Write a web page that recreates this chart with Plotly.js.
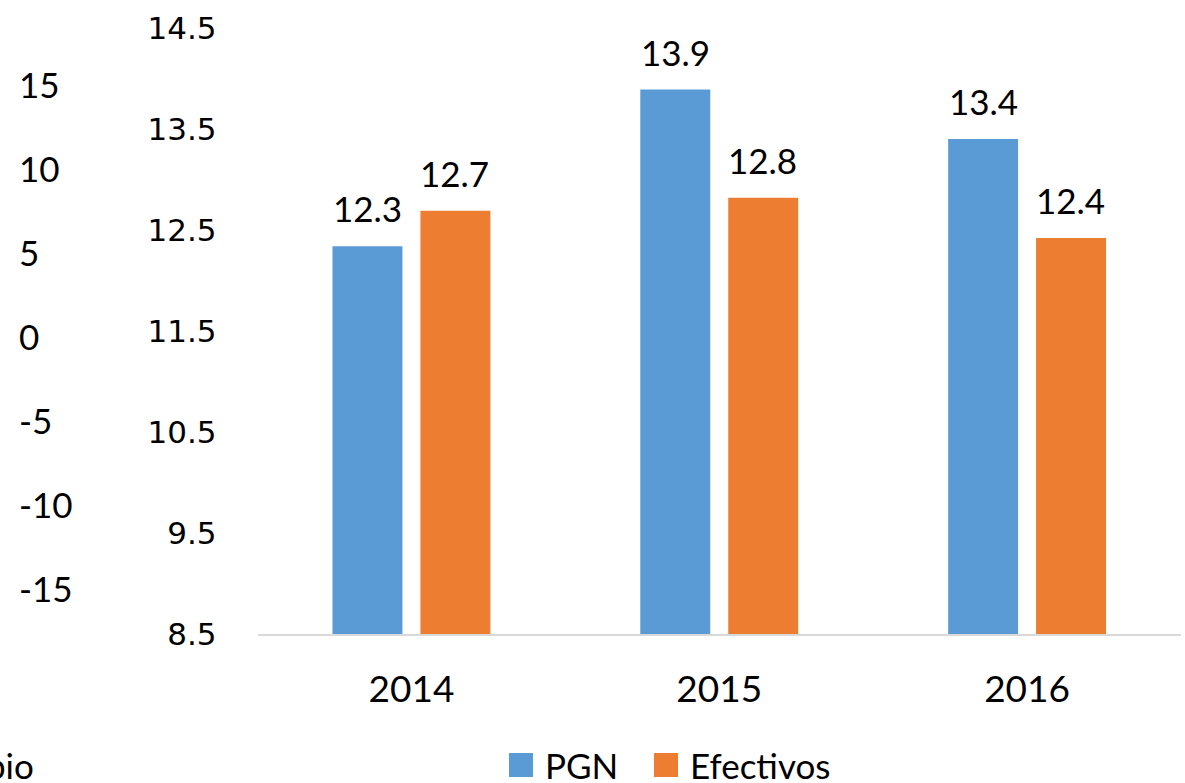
<!DOCTYPE html>
<html>
<head>
<meta charset="utf-8">
<script src="https://cdn.plot.ly/plotly-3.0.1.min.js"></script>
<style>html,body{margin:0;padding:0;background:#fff;}#chart{width:1185px;height:783px;}</style>
</head>
<body>
<div id="chart"></div>
<script>
// Data
var years = ['2014', '2015', '2016'];
var pgn = [12.34, 13.89, 13.40];
var efectivos = [12.69, 12.82, 12.42];
var seriesNames = ['PGN', 'Efectivos'];
var mainTicks = [8.5, 9.5, 10.5, 11.5, 12.5, 13.5, 14.5];
var strayTicks = [-15, -10, -5, 0, 5, 10, 15];
var strayLegendFragment = 'pio';

var BLUE = '#5B9BD5', ORANGE = '#ED7D31';
var FAM = 'Lato, "Open Sans", sans-serif';
var LABEL_FONT = {family: FAM, size: 35, color: '#000'};
var W = 1171, H = 606, ML = 10, MT = 28;
function px2x(p) { return (p - ML) / W; }
function px2y(p) { return (MT + H - p) / H; }

var traces = [
  {type: 'bar', name: seriesNames[0], x: years, y: pgn, marker: {color: BLUE}, showlegend: false},
  {type: 'bar', name: seriesNames[1], x: years, y: efectivos, marker: {color: ORANGE}, showlegend: false},
  // helper so the stray axis is drawn (no visible marks)
  {type: 'scatter', mode: 'markers', x: years, y: years.map(function () { return null; }), yaxis: 'y2', showlegend: false, hoverinfo: 'skip'}
];

var annotations = [];
years.forEach(function (yr, i) {
  // category axes take the category index for annotation positions
  annotations.push({x: i, y: pgn[i], xref: 'x', yref: 'y', text: pgn[i].toFixed(1), showarrow: false,
    xshift: -43.5, yshift: 15, yanchor: 'bottom', font: LABEL_FONT});
  annotations.push({x: i, y: efectivos[i], xref: 'x', yref: 'y', text: efectivos[i].toFixed(1), showarrow: false,
    xshift: 43.5, yshift: 15, yanchor: 'bottom', font: LABEL_FONT});
});
annotations.push({xref: 'paper', yref: 'paper', x: px2x(36), y: px2y(765), height: 34,
  xanchor: 'right', yanchor: 'middle', text: strayLegendFragment, showarrow: false, font: LABEL_FONT});

// custom legend (large square swatches)
var legendSwatchX = [509, 654];
var legendColors = [BLUE, ORANGE];
var shapes = [];
seriesNames.forEach(function (name, i) {
  var x0 = legendSwatchX[i];
  shapes.push({type: 'rect', xref: 'paper', yref: 'paper', x0: px2x(x0), x1: px2x(x0 + 24),
    y0: px2y(777), y1: px2y(753), fillcolor: legendColors[i], line: {width: 0}});
  annotations.push({xref: 'paper', yref: 'paper', x: px2x(x0 + 34), y: px2y(765), height: 34, xanchor: 'left', yanchor: 'middle',
    text: name, showarrow: false, font: LABEL_FONT});
});

var layout = {
  width: 1185, height: 783,
  margin: {l: ML, r: 4, t: MT, b: 149, pad: 0},
  paper_bgcolor: '#fff', plot_bgcolor: '#fff',
  barmode: 'group', bargap: 0.4286, bargroupgap: 0.2045,
  font: LABEL_FONT,
  showlegend: false,
  xaxis: {
    domain: [0.21136, 1], type: 'category', automargin: false,
    categoryorder: 'array', categoryarray: years, range: [-0.5, 2.5], autorange: false,
    showline: true, linecolor: '#D9D9D9', linewidth: 2,
    showgrid: false, zeroline: false, ticks: '',
    ticklabelstandoff: 22,
    tickfont: {family: FAM, size: 37, color: '#000'}
  },
  yaxis: {
    range: [8.5, 14.5], autorange: false, tickvals: mainTicks, ticktext: mainTicks.map(function (v) { return v.toFixed(1); }),
    automargin: false, showgrid: false, zeroline: false, showline: false, ticks: '',
    ticklabelstandoff: 40,
    tickfont: {family: '"DejaVu Sans", sans-serif', size: 31, color: '#000'}
  },
  yaxis2: {
    overlaying: 'y', anchor: 'free', side: 'right', position: px2x(18),
    range: [-17.62, 18.45], autorange: false, tickvals: strayTicks, ticktext: strayTicks.map(function (v) { return String(v); }),
    automargin: false,
    showgrid: false, zeroline: false, showline: false, ticks: '', ticklabelstandoff: 0,
    tickfont: LABEL_FONT
  },
  shapes: shapes,
  annotations: annotations
};

Plotly.newPlot('chart', traces, layout, {displayModeBar: false, staticPlot: true});
</script>
</body>
</html>
